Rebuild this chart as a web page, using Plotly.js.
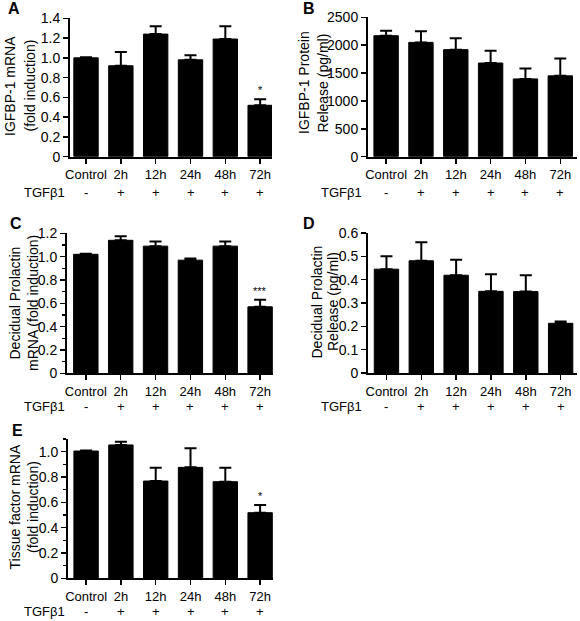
<!DOCTYPE html>
<html>
<head>
<meta charset="utf-8">
<script src="https://cdn.plot.ly/plotly-3.0.1.min.js"></script>
<style>html,body{margin:0;padding:0;background:#fff;}#chart{width:580px;height:621px;}</style>
</head>
<body>
<div id="chart"></div>
<script>
// ---- data ----
const categories = ['Control', '2h', '12h', '24h', '48h', '72h'];
const treatment = ['-', '+', '+', '+', '+', '+'];

const igfbpMrna = [1.00, 0.92, 1.24, 0.98, 1.19, 0.52];
const igfbpMrnaErr = [0.005, 0.14, 0.08, 0.045, 0.13, 0.06];
const igfbpMrnaSig = ['', '', '', '', '', '*'];

const igfbpProtein = [2170, 2050, 1920, 1680, 1395, 1450];
const igfbpProteinErr = [90, 200, 205, 220, 185, 310];

const prlMrna = [1.02, 1.14, 1.09, 0.97, 1.09, 0.57];
const prlMrnaErr = [0.005, 0.034, 0.04, 0.015, 0.04, 0.06];
const prlMrnaSig = ['', '', '', '', '', '***'];

const prlRelease = [0.445, 0.481, 0.419, 0.35, 0.349, 0.213];
const prlReleaseErr = [0.055, 0.079, 0.066, 0.073, 0.07, 0.008];

const tfMrna = [1.005, 1.053, 0.768, 0.876, 0.763, 0.518];
const tfMrnaErr = [0.005, 0.026, 0.105, 0.15, 0.11, 0.06];
const tfMrnaSig = ['', '', '', '', '', '*'];

const treatmentLabel = 'TGF\u03b21';
const panelLetters = ['A', 'B', 'C', 'D', 'E'];
const yTitles = [
  ['IGFBP-1 mRNA', '(fold induction)'],
  ['IGFBP-1 Protein', 'Release (pg/ml)'],
  ['Decidual Prolactin', 'mRNA (fold induction)'],
  ['Decidual Prolactin', 'Release (pg/ml)'],
  ['Tissue factor mRNA', '(fold induction)']
];

// ---- layout geometry (pixels) ----
const W = 580, H = 621;
const FONT = 'Liberation Sans, Arial, sans-serif';
const FS = 14, FSX = 13;
const panels = [
  {vals: igfbpMrna, err: igfbpMrnaErr, sig: igfbpMrnaSig, x0: 70, x1: 272, y0: 18.3, y1: 156.7, xr: [-0.46, 5.34], yr: [0, 1.4], dtick: 0.2, minor: false, fmt: '.1f', rowY: 192, lab: [14, 9], ttlX: [10, 29.5], ttlY: 86, tgfR: 67},
  {vals: igfbpProtein, err: igfbpProteinErr, sig: null, x0: 368, x1: 577, y0: 17.3, y1: 156.7, xr: [-0.52, 5.48], yr: [0, 2500], dtick: 500, minor: false, fmt: 'd', rowY: 192, lab: [309, 9], ttlX: [304, 322.5], ttlY: 83, tgfR: 364},
  {vals: prlMrna, err: prlMrnaErr, sig: prlMrnaSig, x0: 67, x1: 273, y0: 233.3, y1: 373.3, xr: [-0.54, 5.37], yr: [0, 1.2], dtick: 0.2, minor: true, fmt: '.1f', rowY: 406, lab: [16, 223], ttlX: [14.5, 33], ttlY: 303, tgfR: 67},
  {vals: prlRelease, err: prlReleaseErr, sig: null, x0: 368, x1: 577, y0: 233, y1: 373, xr: [-0.53, 5.47], yr: [0, 0.6], dtick: 0.1, minor: false, fmt: '.1f', rowY: 406, lab: [309, 223], ttlX: [316.5, 333], ttlY: 302, tgfR: 364},
  {vals: tfMrna, err: tfMrnaErr, sig: tfMrnaSig, x0: 68, x1: 273, y0: 439, y1: 578.3, xr: [-0.52, 5.37], yr: [0, 1.1], dtick: 0.2, minor: true, fmt: '.1f', rowY: 611, lab: [17, 430], ttlX: [14.5, 33], ttlY: 507, tgfR: 67}
];

const traces = [];
const annotations = [];
const layout = {
  width: W, height: H,
  margin: {l: 0, r: 0, t: 0, b: 0},
  paper_bgcolor: '#fff', plot_bgcolor: '#fff',
  showlegend: false,
  font: {family: FONT, size: FS, color: '#000'},
  bargap: 0.3
};

panels.forEach((p, i) => {
  const n = i === 0 ? '' : String(i + 1);
  const xa = 'x' + n, ya = 'y' + n;
  traces.push({
    type: 'bar', x: categories, y: p.vals, xaxis: xa, yaxis: ya,
    width: 0.7,
    marker: {color: '#000', line: {color: '#000', width: 1}},
    error_y: {type: 'data', array: p.err, arrayminus: p.err.map(() => 0), symmetric: false, color: '#000', thickness: 2, width: 6},
    hoverinfo: 'none'
  });
  layout['xaxis' + n] = {
    domain: [p.x0 / W, p.x1 / W], anchor: ya, type: 'category',
    range: p.xr, showline: true, linecolor: '#000', linewidth: 2,
    ticks: 'outside', ticklen: 5, tickwidth: 1.5, tickcolor: '#000',
    showgrid: false, zeroline: false, fixedrange: true,
    tickfont: {family: FONT, size: FSX, color: '#000'}
  };
  const yax = {
    domain: [1 - p.y1 / H, 1 - p.y0 / H], anchor: xa,
    range: p.yr, showline: true, linecolor: '#000', linewidth: 2,
    ticks: 'outside', ticklen: 5, tickwidth: 1.5, tickcolor: '#000',
    showgrid: false, zeroline: false, fixedrange: true,
    tickfont: {family: FONT, size: FS, color: '#000'},
    tickmode: 'array', tickvals: [], ticktext: []
  };
  for (let v = 0; v <= p.yr[1] + 1e-9; v += p.dtick) {
    const vv = Math.round(v * 1000) / 1000;
    yax.tickvals.push(vv);
    yax.ticktext.push(vv === 0 ? '0' : (p.fmt === 'd' ? String(vv) : vv.toFixed(1)));
  }
  if (p.minor) yax.minor = {dtick: p.dtick / 2, tick0: 0, ticks: 'outside', ticklen: 3, tickwidth: 1.5, tickcolor: '#000', showgrid: false};
  layout['yaxis' + n] = yax;

  annotations.push({xref: 'paper', yref: 'paper', x: p.lab[0] / W, y: 1 - p.lab[1] / H, text: '<b>' + panelLetters[i] + '</b>', showarrow: false, xanchor: 'center', yanchor: 'middle', font: {family: FONT, size: 16, color: '#000'}});
  yTitles[i].forEach((line, j) => {
    annotations.push({xref: 'paper', yref: 'paper', x: p.ttlX[j] / W, y: 1 - p.ttlY / H, text: line, textangle: -90, showarrow: false, xanchor: 'center', yanchor: 'middle', font: {family: FONT, size: FS, color: '#000'}});
  });
  annotations.push({xref: 'paper', yref: 'paper', x: p.tgfR / W, y: 1 - p.rowY / H, text: treatmentLabel, showarrow: false, xanchor: 'right', yanchor: 'middle', font: {family: FONT, size: FSX, color: '#000'}});
  categories.forEach((c, k) => {
    annotations.push({xref: xa, yref: 'paper', x: c, y: 1 - p.rowY / H, text: treatment[k], showarrow: false, xanchor: 'center', yanchor: 'middle', font: {family: FONT, size: FSX, color: '#000'}});
    if (p.sig && p.sig[k]) {
      annotations.push({xref: xa, yref: ya, x: c, y: p.vals[k] + p.err[k], text: p.sig[k], showarrow: false, xanchor: 'center', yanchor: 'bottom', yshift: 1, font: {family: FONT, size: 11, color: '#000'}});
    }
  });
});

layout.annotations = annotations;
Plotly.newPlot('chart', traces, layout, {staticPlot: true, displayModeBar: false});
</script>
</body>
</html>
